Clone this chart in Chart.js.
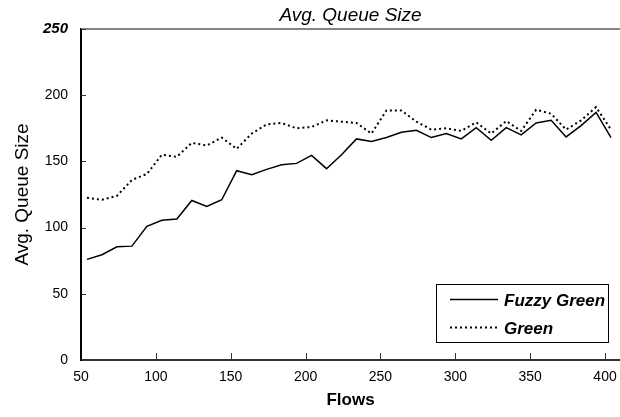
<!DOCTYPE html>
<html>
<head>
<meta charset="utf-8">
<script src="https://cdn.jsdelivr.net/npm/chart.js@4"></script>
<style>
  html, body { margin: 0; padding: 0; background: #fff; }
  #wrap { width: 620px; height: 417px; }
</style>
</head>
<body>
<div id="wrap"><canvas id="queue-chart" width="620" height="417"></canvas></div>
<script>
// data
const flows = [54, 64, 74, 84, 94, 104, 114, 124, 134, 144, 154, 164, 174, 184, 194, 204, 214, 224,
               234, 244, 254, 264, 274, 284, 294, 304, 314, 324, 334, 344, 354, 364, 374, 384, 394, 404];
const fuzzyGreen = [76, 79.5, 85.5, 86, 101, 105.5, 106.5, 120.5, 116, 121, 143, 140, 144, 147.5, 148.5, 154.5, 144.5, 155,
                    167, 165, 168, 172, 173.5, 168, 171, 167, 175.5, 166, 175.5, 170, 179, 181, 168.5, 177, 187, 168];
const green = [122.5, 121, 124, 136, 140.5, 155, 153.5, 164, 162, 168, 159.5, 171, 178, 179, 175, 176, 181, 180,
               179, 171, 188.5, 188.5, 180, 174, 175, 173, 179.5, 171, 180.5, 173, 189, 186, 174, 181, 191, 174];
const xTicks = [50, 100, 150, 200, 250, 300, 350, 400];
const yTicks = [0, 50, 100, 150, 200, 250];

const FONT = "'Liberation Sans', Arial, sans-serif";

function toPoints(xs, ys) {
  return xs.map((x, i) => ({ x: x, y: ys[i] }));
}

// extras: title, top border, inward tick marks, legend box
const extras = {
  id: 'extras',
  afterDraw(chart) {
    const ctx = chart.ctx;
    const area = chart.chartArea;
    const xs = chart.scales.x, ys = chart.scales.y;
    ctx.save();

    // gray top border
    ctx.strokeStyle = '#858585';
    ctx.lineWidth = 2;
    ctx.beginPath();
    ctx.moveTo(area.left, area.top);
    ctx.lineTo(area.right, area.top);
    ctx.stroke();

    // inward tick marks
    ctx.strokeStyle = '#333';
    ctx.lineWidth = 1;
    yTicks.forEach(v => {
      if (v === 0) return;
      const y = Math.round(ys.getPixelForValue(v)) + 0.5;
      ctx.beginPath();
      ctx.moveTo(area.left, y);
      ctx.lineTo(area.left + 5, y);
      ctx.stroke();
    });
    xTicks.forEach(v => {
      if (v === 50) return;
      const x = Math.round(xs.getPixelForValue(v)) + 0.5;
      ctx.beginPath();
      ctx.moveTo(x, area.bottom);
      ctx.lineTo(x, area.bottom - 7);
      ctx.stroke();
    });

    // title
    ctx.fillStyle = '#000';
    ctx.font = 'italic 19px ' + FONT;
    ctx.textAlign = 'center';
    ctx.textBaseline = 'middle';
    ctx.fillText('Avg. Queue Size', (area.left + area.right) / 2, 16);

    // legend
    const bx = 436, by = 284, bw = 172, bh = 58;
    ctx.fillStyle = '#fff';
    ctx.fillRect(bx, by, bw, bh);
    ctx.strokeStyle = '#000';
    ctx.lineWidth = 1;
    ctx.strokeRect(bx + 0.5, by + 0.5, bw, bh);
    const rows = [299, 327];
    chart.data.datasets.forEach((ds, i) => {
      const y = rows[i] + 0.5;
      ctx.strokeStyle = ds.borderColor;
      ctx.lineWidth = ds.borderWidth;
      ctx.setLineDash(ds.borderDash || []);
      ctx.beginPath();
      ctx.moveTo(450, y);
      ctx.lineTo(498, y);
      ctx.stroke();
      ctx.setLineDash([]);
      ctx.fillStyle = '#000';
      ctx.font = 'italic bold 17px ' + FONT;
      ctx.textAlign = 'left';
      ctx.textBaseline = 'middle';
      ctx.fillText(ds.label, 504, rows[i] + 2);
    });
    ctx.restore();
  }
};

const chart = new Chart(document.getElementById('queue-chart').getContext('2d'), {
  type: 'line',
  data: {
    datasets: [
      {
        label: 'Fuzzy Green',
        data: toPoints(flows, fuzzyGreen),
        borderColor: '#000',
        borderWidth: 1.5,
        pointRadius: 0,
        tension: 0,
        fill: false
      },
      {
        label: 'Green',
        data: toPoints(flows, green),
        borderColor: '#000',
        borderWidth: 2,
        borderDash: [2, 3],
        pointRadius: 0,
        tension: 0,
        fill: false
      }
    ]
  },
  options: {
    responsive: false,
    animation: false,
    layout: { padding: { top: 29, right: 0, left: 0, bottom: 0 } },
    plugins: {
      legend: { display: false },
      tooltip: { enabled: false },
      title: { display: false }
    },
    scales: {
      x: {
        type: 'linear',
        min: 50,
        max: 410,
        afterBuildTicks: s => { s.ticks = xTicks.map(v => ({ value: v })); },
        afterFit: s => { s.height = 57; s.paddingLeft = 0; s.paddingRight = 0; },
        grid: { display: true, drawOnChartArea: false, drawTicks: false },
        border: { display: true, color: '#333', width: 2 },
        ticks: {
          padding: 9,
          color: '#000',
          maxRotation: 0,
          font: { family: FONT, size: 14 }
        },
        title: {
          display: true,
          text: 'Flows',
          color: '#000',
          font: { family: FONT, size: 17, weight: 'bold', lineHeight: 1.2 },
          padding: { top: 0, bottom: 6 }
        }
      },
      y: {
        min: 0,
        max: 250,
        afterBuildTicks: s => { s.ticks = yTicks.map(v => ({ value: v })); },
        afterFit: s => { s.width = 81; s.paddingTop = 0; s.paddingBottom = 0; },
        grid: { display: true, drawOnChartArea: false, drawTicks: false },
        border: { display: true, color: '#000', width: 2 },
        ticks: {
          padding: 13,
          color: '#000',
          font: c => (c.tick && c.tick.value === 250)
            ? { family: FONT, size: 15, weight: 'bold', style: 'italic' }
            : { family: FONT, size: 14 }
        },
        title: {
          display: true,
          text: 'Avg. Queue Size',
          color: '#000',
          font: { family: FONT, size: 19, lineHeight: 1.2 },
          padding: { top: 11, bottom: 0 }
        }
      }
    }
  },
  plugins: [extras]
});
</script>
</body>
</html>
